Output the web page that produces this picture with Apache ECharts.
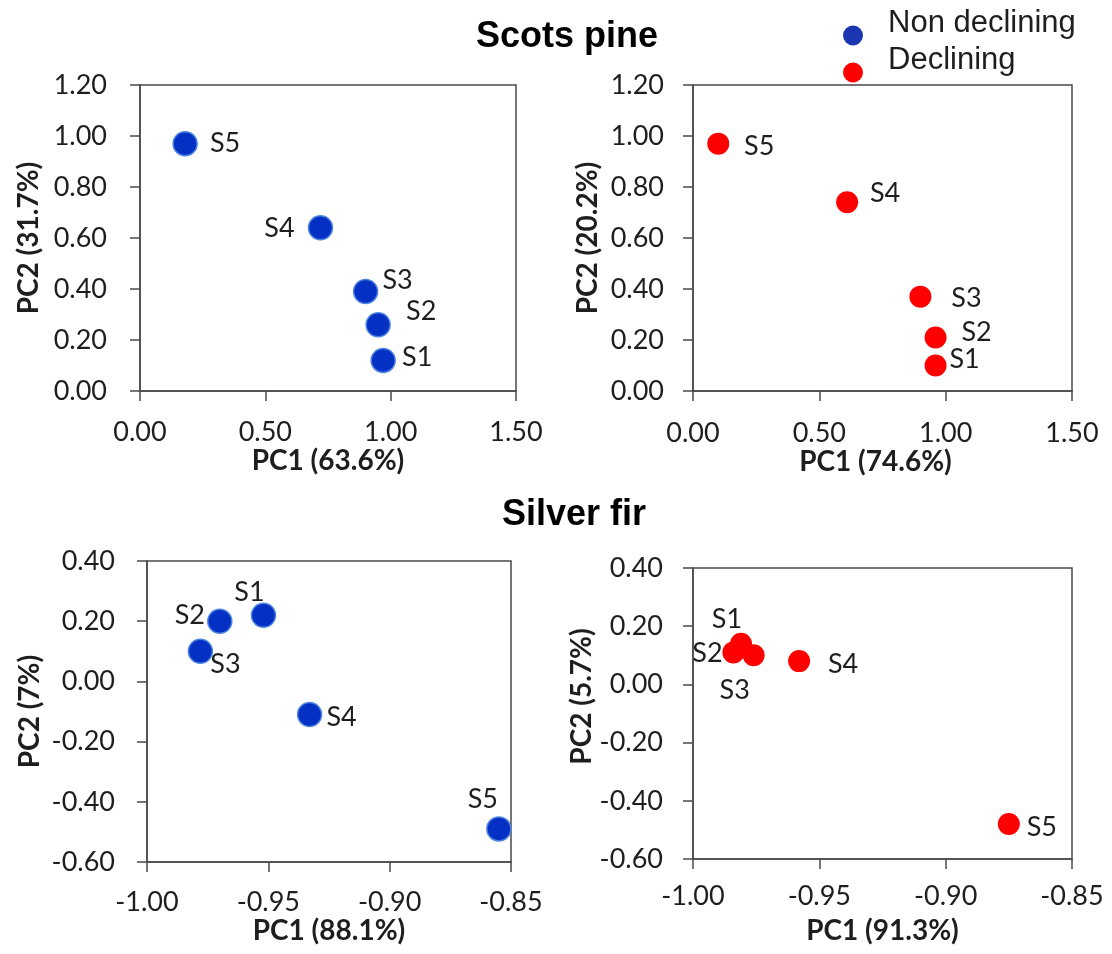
<!DOCTYPE html>
<html>
<head>
<meta charset="utf-8">
<title>PCA scores – Scots pine and Silver fir</title>
<script src="https://cdn.jsdelivr.net/npm/echarts@6/dist/echarts.min.js"></script>
<style>
  html, body { margin: 0; padding: 0; background: #fff; }
  #chart { width: 1112px; height: 954px; }
</style>
</head>
<body>
<div id="chart"></div>
<script>
// Site names shared by every panel
const sites = ['S1', 'S2', 'S3', 'S4', 'S5'];

// Scots pine, non declining trees
const pineNonPC1 = [0.97, 0.95, 0.90, 0.72, 0.18];
const pineNonPC2 = [0.12, 0.26, 0.39, 0.64, 0.97];
// Scots pine, declining trees
const pineDecPC1 = [0.96, 0.96, 0.90, 0.61, 0.10];
const pineDecPC2 = [0.10, 0.21, 0.37, 0.74, 0.97];
// Silver fir, non declining trees
const firNonPC1 = [-0.952, -0.970, -0.978, -0.933, -0.855];
const firNonPC2 = [0.22, 0.20, 0.10, -0.11, -0.49];
// Silver fir, declining trees
const firDecPC1 = [-0.981, -0.984, -0.976, -0.958, -0.875];
const firDecPC2 = [0.14, 0.11, 0.10, 0.08, -0.48];

// Axis titles (explained variance per component)
const xTitles = ['PC1 (63.6%)', 'PC1 (74.6%)', 'PC1 (88.1%)', 'PC1 (91.3%)'];
const yTitles = ['PC2 (31.7%)', 'PC2 (20.2%)', 'PC2 (7%)', 'PC2 (5.7%)'];
const speciesTitles = ['Scots pine', 'Silver fir'];
const groupNames = ['Non declining', 'Declining'];

// ---- layout / styling ----
const BLUE = '#0431c4';
const RED = '#ff0000';
const AXIS = '#4a4a4a';
const TXT = '#1e1e1e';
const LABEL_FONT = 'Lato, "Open Sans", sans-serif';
const HEAD_FONT = '"Liberation Sans", Arial, sans-serif';

// Per-panel frame, axis ranges and label placement (label centre relative to its dot, px)
const panels = [
  { grid: { left: 140, top: 85, width: 376, height: 306 },
    x: [0, 1.5, 0.5], y: [0, 1.2, 0.2], xs: pineNonPC1, ys: pineNonPC2, group: 0,
    xMargin: 28, yMargin: 33, xGap: 56, yGap: 97, namePadX: 0, namePadY: 0,
    offsets: [[34, -3], [43, -13], [32, -11], [-41, 0], [40, 0]] },
  { grid: { left: 693, top: 85, width: 379, height: 306 },
    x: [0, 1.5, 0.5], y: [0, 1.2, 0.2], xs: pineDecPC1, ys: pineDecPC2, group: 1,
    xMargin: 29, yMargin: 29, xGap: 55, yGap: 91, namePadX: [0, 14, 0, 0], namePadY: 0,
    offsets: [[29, -6], [41, -5], [46, 2], [38, -9], [41, 3]] },
  { grid: { left: 147, top: 561, width: 364, height: 301 },
    x: [-1, -0.85, 0.05], y: [-0.6, 0.4, 0.2], xs: firNonPC1, ys: firNonPC2, group: 0,
    xMargin: 27, yMargin: 32, xGap: 55, yGap: 103, namePadX: 0, namePadY: 0,
    offsets: [[-14, -23], [-30, -6], [25, 13], [32, 3], [-16, -30]] },
  { grid: { left: 693, top: 568, width: 379, height: 291 },
    x: [-1, -0.85, 0.05], y: [-0.6, 0.4, 0.2], xs: firDecPC1, ys: firDecPC2, group: 1,
    xMargin: 24, yMargin: 30, xGap: 58, yGap: 92, namePadX: 0, namePadY: [0, 0, 0, 34],
    offsets: [[-14, -24], [-26, 1], [-19, 35], [44, 3], [33, 3]] }
];

const fmt2 = v => v.toFixed(2);

const grids = [], xAxes = [], yAxes = [], series = [];
panels.forEach((p, i) => {
  grids.push(Object.assign({ show: true, borderColor: AXIS, borderWidth: 1.5,
    backgroundColor: 'transparent', containLabel: false }, p.grid));
  const axisCommon = {
    type: 'value', gridIndex: i, nameLocation: 'middle',
    axisLine: { show: true, onZero: false, lineStyle: { color: AXIS, width: 1.5 } },
    axisTick: { show: true, length: 10, lineStyle: { color: AXIS, width: 1.5 } },
    splitLine: { show: false }
  };
  xAxes.push(Object.assign({}, axisCommon, {
    min: p.x[0], max: p.x[1], interval: p.x[2],
    name: xTitles[i], nameGap: p.xGap,
    nameTextStyle: { fontFamily: LABEL_FONT, fontWeight: 'bold', fontSize: 28, color: TXT, padding: p.namePadX },
    axisLabel: { margin: p.xMargin, formatter: fmt2, fontFamily: LABEL_FONT, fontSize: 27, color: TXT,
      showMinLabel: true, showMaxLabel: true }
  }));
  yAxes.push(Object.assign({}, axisCommon, {
    min: p.y[0], max: p.y[1], interval: p.y[2],
    name: yTitles[i], nameGap: p.yGap,
    nameTextStyle: { fontFamily: LABEL_FONT, fontWeight: 'bold', fontSize: 28, color: TXT, padding: p.namePadY },
    axisLabel: { margin: p.yMargin, formatter: fmt2, fontFamily: LABEL_FONT, fontSize: 27, color: TXT,
      showMinLabel: true, showMaxLabel: true }
  }));
  const blue = p.group === 0;
  series.push({
    type: 'scatter', name: groupNames[p.group], xAxisIndex: i, yAxisIndex: i,
    symbol: 'circle', symbolSize: blue ? 24 : 22,
    itemStyle: blue
      ? { color: BLUE, borderColor: '#4f84e0', borderWidth: 1.5, opacity: 1 }
      : { color: RED, opacity: 1 },
    label: { show: true, position: 'inside', formatter: '{b}',
      fontFamily: LABEL_FONT, fontSize: 27, color: TXT },
    labelLayout: params => {
      const off = p.offsets[params.dataIndex];
      return { dx: off[0], dy: off[1], hideOverlap: false };
    },
    emphasis: { disabled: true },
    data: p.xs.map((x, k) => ({ name: sites[k], value: [x, p.ys[k]] }))
  });
});

const chart = echarts.init(document.getElementById('chart'), null, { renderer: 'canvas' });
chart.setOption({
  backgroundColor: '#ffffff',
  animation: false,
  grid: grids,
  xAxis: xAxes,
  yAxis: yAxes,
  series: series,
  legend: {
    orient: 'vertical', left: 838, top: 3, itemWidth: 20, itemHeight: 20, itemGap: -18,
    icon: 'circle', selectedMode: false,
    // trailing empty line lifts the caption above the dot centre
    formatter: name => name + '\n ',
    textStyle: { fontFamily: HEAD_FONT, fontSize: 31, lineHeight: 24, color: TXT, padding: [0, 0, 0, 20] },
    data: [
      { name: groupNames[0], itemStyle: { color: '#1c35b0', borderWidth: 0 } },
      { name: groupNames[1], itemStyle: { color: RED, borderWidth: 0 } }
    ]
  },
  graphic: [
    { type: 'text', x: 567, y: 37, style: { text: speciesTitles[0], font: 'bold 36px ' + HEAD_FONT,
      fill: '#000', textAlign: 'center', textVerticalAlign: 'middle' } },
    { type: 'text', x: 574, y: 515, style: { text: speciesTitles[1], font: 'bold 36px ' + HEAD_FONT,
      fill: '#000', textAlign: 'center', textVerticalAlign: 'middle' } }
  ]
});
</script>
</body>
</html>
